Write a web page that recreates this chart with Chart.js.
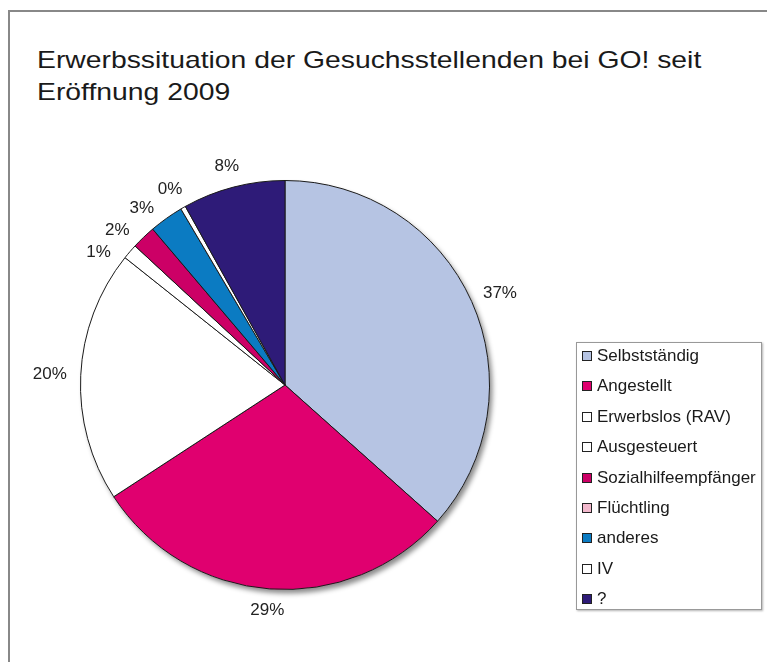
<!DOCTYPE html>
<html>
<head>
<meta charset="utf-8">
<script src="https://cdn.jsdelivr.net/npm/chart.js@4.4.1/dist/chart.umd.min.js"></script>
<style>
  body { margin: 0; background: #fff; font-family: "Liberation Sans", Arial, sans-serif; overflow: hidden; }
  #frame { position: absolute; left: 8px; top: 10px; width: 780px; height: 700px;
           border-left: 2px solid #888; border-top: 2px solid #888; }
  #title { position: absolute; left: 37px; top: 44px; font-size: 24px; line-height: 32px; color: #1a1a1a;
           white-space: nowrap; transform: scaleX(1.18); transform-origin: 0 0; }
  #wrap { position: absolute; left: 0; top: 0; width: 767px; height: 662px; }
  #legend { position: absolute; left: 576px; top: 342px; width: 184px; height: 266px;
            border: 1px solid #999; box-shadow: 1px 1px 2px rgba(0,0,0,0.3); background: #fff; }
  #legend div { position: absolute; left: 5px; font-size: 17px; line-height: 20px; color: #1a1a1a; white-space: nowrap; }
  #legend span { display: inline-block; width: 8px; height: 8px; border: 1px solid #222;
                 margin-right: 5px; vertical-align: 0px; }
</style>
</head>
<body>
<div id="frame"></div>
<div id="title">Erwerbssituation der Gesuchsstellenden bei GO! seit<br>Eröffnung 2009</div>
<div id="wrap"><canvas id="chart"></canvas></div>
<div id="legend"></div>
<script>
// Categories and shares (percent)
let categories = ['Selbstständig', 'Angestellt', 'Erwerbslos (RAV)', 'Ausgesteuert',
                  'Sozialhilfeempfänger', 'Flüchtling', 'anderes', 'IV', '?'];
let shares = [36.6, 29.2, 19.9, 1.2, 1.9, 0, 2.7, 0.4, 8.1];
let colors = ['#b6c4e3', '#e0006f', '#ffffff', '#ffffff', '#cc0066', '#f2b8cc', '#0b7bc2', '#ffffff', '#2e1b78'];

// Build the legend from the arrays
let legendBox = document.getElementById('legend');
categories.forEach((name, i) => {
    let row = document.createElement('div');
    row.style.top = (3 + i * 30.4) + 'px';
    row.innerHTML = '<span style="background:' + colors[i] + '"></span>' + name;
    legendBox.appendChild(row);
});

// Drop shadow behind the pie, and percent labels outside it
let piePlugin = {
    id: 'pieExtras',
    beforeDatasetsDraw(chart) {
        let arc = chart.getDatasetMeta(0).data[0];
        let ctx = chart.ctx;
        ctx.save();
        ctx.shadowColor = 'rgba(0,0,0,0.45)';
        ctx.shadowBlur = 5;
        ctx.shadowOffsetX = 3;
        ctx.shadowOffsetY = 4;
        ctx.beginPath();
        ctx.arc(arc.x, arc.y, arc.outerRadius, 0, Math.PI * 2);
        ctx.fillStyle = '#fff';
        ctx.fill();
        ctx.restore();
    },
    afterDatasetsDraw(chart) {
        let ctx = chart.ctx;
        let total = shares.reduce((a, b) => a + b, 0);
        let arcs = chart.getDatasetMeta(0).data;
        let placed = [];
        ctx.save();
        ctx.font = '17px "Liberation Sans", Arial, sans-serif';
        ctx.fillStyle = '#222';
        ctx.textAlign = 'center';
        ctx.textBaseline = 'middle';
        // walk backwards so small slices near the top push each other away
        for (let i = arcs.length - 1; i >= 0; i--) {
            if (shares[i] === 0) continue;
            let el = arcs[i];
            let text = Math.round(shares[i] / total * 100) + '%';
            let w = ctx.measureText(text).width, h = 14;
            let a = (el.startAngle + el.endAngle) / 2;
            let pos = () => {
                let r = el.outerRadius + 14;
                return {
                    x: el.x + Math.cos(a) * r + Math.cos(a) * w / 2,
                    y: el.y + Math.sin(a) * r + Math.sin(a) * h / 2
                };
            };
            let p = pos();
            let hits = q => placed.some(b => Math.abs(b.x - q.x) < (b.w + w) / 2 + 3 && Math.abs(b.y - q.y) < (b.h + h) / 2 + 7);
            let n = 0;
            while (hits(p) && n < 80) { a -= 0.01; p = pos(); n++; }
            placed.push({ x: p.x, y: p.y, w: w, h: h });
            ctx.fillText(text, p.x, p.y);
        }
        ctx.restore();
    }
};

let ctx = document.getElementById('chart').getContext('2d');
let pieChart = new Chart(ctx, {
    type: 'pie',
    data: {
        labels: categories,
        datasets: [{
            data: shares,
            backgroundColor: colors,
            borderColor: '#1a1a1a',
            borderWidth: 1
        }]
    },
    options: {
        responsive: true,
        maintainAspectRatio: false,
        animation: false,
        layout: { padding: { left: 80, top: 180, right: 277, bottom: 72 } },
        plugins: {
            legend: { display: false },
            tooltip: { enabled: false }
        }
    },
    plugins: [piePlugin]
});
</script>
</body>
</html>
